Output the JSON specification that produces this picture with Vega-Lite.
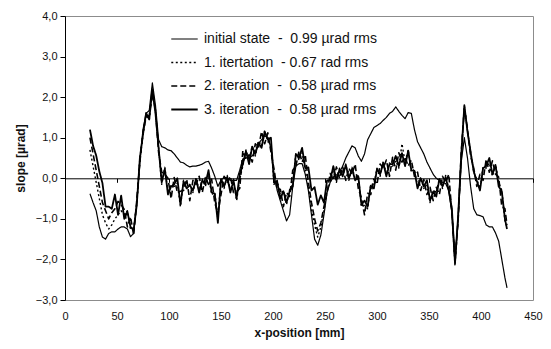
{
  "$schema": "https://vega.github.io/schema/vega-lite/v6.json",
  "width": 468,
  "height": 284,
  "autosize": "none",
  "padding": {"left": 65, "top": 16, "right": 18, "bottom": 49},
  "background": "white",
  "config": {
    "font": "Liberation Sans",
    "view": {"stroke": "#8c8c8c", "strokeWidth": 1},
    "axis": {"grid": false, "labelFont": "Liberation Sans", "titleFont": "Liberation Sans", "labelColor": "#111", "titleColor": "#111", "labelFontSize": 11, "titleFontSize": 12, "titleFontWeight": "bold", "domainColor": "black", "tickColor": "black"}
  },
  "data": {
    "values": [
      {"x":24,"a":-0.38,"b":0.7,"c":1.0,"d":1.2},
      {"x":27,"a":-0.6,"b":0.3,"c":0.6,"d":0.8},
      {"x":30,"a":-0.8,"b":-0.1,"c":0.2,"d":0.56},
      {"x":33,"a":-1.2,"b":-0.5,"c":-0.2,"d":0.17},
      {"x":36,"a":-1.45,"b":-0.9,"c":-0.6,"d":-0.12},
      {"x":39,"a":-1.5,"b":-1.1,"c":-0.8,"d":-0.7},
      {"x":42,"a":-1.36,"b":-1.25,"c":-1.0,"d":-0.7},
      {"x":45,"a":-1.32,"b":-1.15,"c":-0.85,"d":-0.75},
      {"x":48,"a":-1.32,"b":-1.0,"c":-0.75,"d":-0.4},
      {"x":51,"a":-1.25,"b":-0.9,"c":-0.57,"d":-0.9},
      {"x":54,"a":-1.2,"b":-0.8,"c":-0.65,"d":-0.43},
      {"x":57,"a":-1.2,"b":-0.9,"c":-0.77,"d":-1.0},
      {"x":60,"a":-1.25,"b":-0.8,"c":-1.2,"d":-0.82},
      {"x":63,"a":-1.44,"b":-1.25,"c":-0.95,"d":-1.2},
      {"x":66,"a":-1.36,"b":-1.23,"c":-1.4,"d":-1.27},
      {"x":69,"a":-0.6,"b":-0.65,"c":-0.54,"d":-0.66},
      {"x":72,"a":0.4,"b":0.5,"c":0.4,"d":0.5},
      {"x":75,"a":1.2,"b":1.07,"c":1.14,"d":1.08},
      {"x":78,"a":1.6,"b":1.57,"c":1.5,"d":1.61},
      {"x":81,"a":1.67,"b":1.44,"c":1.55,"d":1.45},
      {"x":84,"a":2.35,"b":2.15,"c":2.07,"d":2.2},
      {"x":87,"a":1.8,"b":1.63,"c":1.68,"d":1.6},
      {"x":90,"a":0.95,"b":0.76,"c":0.64,"d":0.75},
      {"x":93,"a":0.78,"b":-0.15,"c":0.15,"d":-0.1},
      {"x":96,"a":0.75,"b":0.27,"c":0.1,"d":0.23},
      {"x":99,"a":0.7,"b":-0.35,"c":0.0,"d":-0.4},
      {"x":102,"a":0.68,"b":-0.17,"c":-0.5,"d":-0.2},
      {"x":105,"a":0.6,"b":-0.2,"c":0.02,"d":-0.15},
      {"x":108,"a":0.5,"b":-0.12,"c":-0.35,"d":0.0},
      {"x":111,"a":0.4,"b":-0.7,"c":-0.32,"d":-0.65},
      {"x":114,"a":0.38,"b":-0.05,"c":-0.3,"d":-0.08},
      {"x":117,"a":0.32,"b":-0.15,"c":-0.02,"d":-0.25},
      {"x":120,"a":0.28,"b":-0.15,"c":-0.55,"d":-0.17},
      {"x":123,"a":0.3,"b":-0.35,"c":-0.05,"d":-0.3},
      {"x":126,"a":0.3,"b":0.02,"c":-0.15,"d":-0.02},
      {"x":129,"a":0.32,"b":-0.3,"c":0.05,"d":-0.35},
      {"x":132,"a":0.35,"b":-0.02,"c":-0.35,"d":-0.05},
      {"x":135,"a":0.4,"b":-0.2,"c":0.02,"d":-0.15},
      {"x":138,"a":0.42,"b":0.08,"c":-0.15,"d":0.2},
      {"x":141,"a":0.25,"b":-0.4,"c":-0.02,"d":-0.35},
      {"x":144,"a":0.05,"b":-0.35,"c":-0.6,"d":-0.38},
      {"x":147,"a":-0.2,"b":-1.0,"c":-0.87,"d":-1.1},
      {"x":150,"a":-0.05,"b":0.0,"c":-0.4,"d":-0.02},
      {"x":153,"a":0.03,"b":-0.25,"c":0.05,"d":-0.2},
      {"x":156,"a":0.0,"b":0.07,"c":-0.1,"d":0.03},
      {"x":159,"a":-0.05,"b":-0.3,"c":0.05,"d":-0.35},
      {"x":162,"a":-0.05,"b":-0.02,"c":-0.35,"d":-0.05},
      {"x":165,"a":-0.05,"b":-0.55,"c":-0.33,"d":-0.5},
      {"x":168,"a":0.2,"b":-0.02,"c":-0.25,"d":0.1},
      {"x":171,"a":0.48,"b":0.3,"c":0.68,"d":0.35},
      {"x":174,"a":0.5,"b":0.7,"c":0.45,"d":0.67},
      {"x":177,"a":0.52,"b":0.45,"c":0.58,"d":0.35},
      {"x":180,"a":0.55,"b":0.8,"c":0.4,"d":0.78},
      {"x":183,"a":0.65,"b":0.55,"c":0.85,"d":0.6},
      {"x":186,"a":0.85,"b":0.92,"c":0.75,"d":0.88},
      {"x":189,"a":0.95,"b":0.8,"c":1.15,"d":0.75},
      {"x":192,"a":1.05,"b":1.18,"c":0.85,"d":1.15},
      {"x":195,"a":1.0,"b":0.9,"c":1.12,"d":0.95},
      {"x":198,"a":0.75,"b":0.88,"c":0.65,"d":1.0},
      {"x":201,"a":0.1,"b":-0.15,"c":0.23,"d":-0.1},
      {"x":204,"a":-0.3,"b":-0.05,"c":-0.3,"d":-0.08},
      {"x":207,"a":-0.55,"b":-0.4,"c":-0.27,"d":-0.5},
      {"x":210,"a":-0.8,"b":-0.3,"c":-0.7,"d":-0.32},
      {"x":213,"a":-1.05,"b":-0.65,"c":-0.35,"d":-0.6},
      {"x":216,"a":-0.9,"b":-0.28,"c":-0.45,"d":-0.32},
      {"x":219,"a":-0.2,"b":-0.15,"c":0.2,"d":-0.2},
      {"x":222,"a":0.3,"b":0.63,"c":0.3,"d":0.6},
      {"x":225,"a":0.36,"b":0.45,"c":0.67,"d":0.5},
      {"x":228,"a":0.36,"b":0.63,"c":0.4,"d":0.75},
      {"x":231,"a":0.1,"b":0.2,"c":0.58,"d":0.25},
      {"x":234,"a":-0.3,"b":-0.2,"c":-0.1,"d":0.27},
      {"x":237,"a":-0.9,"b":-0.8,"c":-0.6,"d":-0.3},
      {"x":240,"a":-1.5,"b":-1.15,"c":-1.0,"d":-0.22},
      {"x":243,"a":-1.65,"b":-1.45,"c":-1.3,"d":-0.65},
      {"x":246,"a":-1.4,"b":-1.2,"c":-1.1,"d":-0.42},
      {"x":249,"a":-0.9,"b":-0.8,"c":-0.7,"d":-0.6},
      {"x":252,"a":-0.35,"b":-0.3,"c":-0.35,"d":-0.05},
      {"x":255,"a":-0.1,"b":-0.1,"c":0.12,"d":-0.05},
      {"x":258,"a":0.03,"b":0.18,"c":-0.05,"d":0.3},
      {"x":261,"a":0.08,"b":-0.1,"c":0.28,"d":-0.05},
      {"x":264,"a":0.15,"b":0.25,"c":0.0,"d":0.22},
      {"x":267,"a":0.3,"b":0.15,"c":0.28,"d":0.05},
      {"x":270,"a":0.5,"b":0.35,"c":-0.05,"d":0.33},
      {"x":273,"a":0.65,"b":-0.05,"c":0.25,"d":0.0},
      {"x":276,"a":0.8,"b":0.27,"c":0.1,"d":0.23},
      {"x":279,"a":0.75,"b":0.0,"c":0.35,"d":-0.05},
      {"x":282,"a":0.55,"b":0.08,"c":-0.25,"d":0.05},
      {"x":285,"a":0.42,"b":-0.7,"c":-0.48,"d":-0.65},
      {"x":288,"a":0.6,"b":-0.67,"c":-0.9,"d":-0.55},
      {"x":291,"a":0.95,"b":-0.75,"c":-0.37,"d":-0.7},
      {"x":294,"a":1.1,"b":-0.15,"c":-0.4,"d":-0.18},
      {"x":297,"a":1.25,"b":-0.15,"c":-0.02,"d":-0.25},
      {"x":300,"a":1.3,"b":0.25,"c":-0.15,"d":0.23},
      {"x":303,"a":1.35,"b":0.05,"c":0.35,"d":0.1},
      {"x":306,"a":1.43,"b":0.42,"c":0.25,"d":0.38},
      {"x":309,"a":1.5,"b":0.1,"c":0.45,"d":0.05},
      {"x":312,"a":1.6,"b":0.38,"c":0.05,"d":0.35},
      {"x":315,"a":1.65,"b":0.3,"c":0.52,"d":0.35},
      {"x":318,"a":1.76,"b":0.43,"c":0.2,"d":0.55},
      {"x":321,"a":1.65,"b":0.25,"c":0.63,"d":0.3},
      {"x":324,"a":1.55,"b":0.85,"c":0.4,"d":0.62},
      {"x":327,"a":1.47,"b":0.4,"c":0.53,"d":0.3},
      {"x":330,"a":1.62,"b":0.7,"c":0.3,"d":0.68},
      {"x":333,"a":1.6,"b":0.15,"c":0.45,"d":0.2},
      {"x":336,"a":1.2,"b":0.22,"c":0.05,"d":0.18},
      {"x":339,"a":0.9,"b":-0.2,"c":0.15,"d":-0.25},
      {"x":342,"a":0.75,"b":0.03,"c":-0.3,"d":0.0},
      {"x":345,"a":0.6,"b":-0.25,"c":-0.03,"d":-0.2},
      {"x":348,"a":0.4,"b":-0.17,"c":-0.4,"d":-0.05},
      {"x":351,"a":0.25,"b":-0.6,"c":-0.22,"d":-0.55},
      {"x":354,"a":0.1,"b":-0.3,"c":-0.55,"d":-0.33},
      {"x":357,"a":0.0,"b":-0.35,"c":-0.22,"d":-0.45},
      {"x":360,"a":-0.05,"b":0.0,"c":-0.4,"d":-0.02},
      {"x":363,"a":-0.1,"b":-0.25,"c":0.05,"d":-0.2},
      {"x":366,"a":-0.13,"b":0.07,"c":-0.1,"d":0.03},
      {"x":369,"a":-0.3,"b":-0.25,"c":0.1,"d":-0.3},
      {"x":372,"a":-0.85,"b":-0.78,"c":-0.85,"d":-0.75},
      {"x":375,"a":-2.0,"b":-2.15,"c":-2.05,"d":-2.1},
      {"x":378,"a":-1.0,"b":-0.98,"c":-1.05,"d":-0.94},
      {"x":381,"a":0.4,"b":0.55,"c":0.65,"d":0.55},
      {"x":384,"a":1.0,"b":1.78,"c":1.72,"d":1.8},
      {"x":387,"a":0.5,"b":1.18,"c":1.22,"d":1.15},
      {"x":390,"a":-0.2,"b":0.66,"c":0.55,"d":0.65},
      {"x":393,"a":-0.75,"b":0.15,"c":0.25,"d":0.17},
      {"x":396,"a":-0.9,"b":-0.03,"c":-0.2,"d":-0.07},
      {"x":399,"a":-0.92,"b":-0.25,"c":0.1,"d":-0.3},
      {"x":402,"a":-0.95,"b":0.28,"c":-0.05,"d":0.25},
      {"x":405,"a":-1.15,"b":0.25,"c":0.47,"d":0.3},
      {"x":408,"a":-1.2,"b":0.38,"c":0.15,"d":0.5},
      {"x":411,"a":-1.2,"b":0.05,"c":0.43,"d":0.1},
      {"x":414,"a":-1.35,"b":0.35,"c":0.1,"d":0.32},
      {"x":417,"a":-1.55,"b":-0.1,"c":0.03,"d":-0.2},
      {"x":420,"a":-2.0,"b":-0.3,"c":-0.7,"d":-0.32},
      {"x":423,"a":-2.45,"b":-1.05,"c":-0.75,"d":-1.0},
      {"x":425,"a":-2.7,"b":-1.2,"c":-1.15,"d":-1.25}
    ]
  },
  "transform": [{"fold": ["a", "b", "c", "d"], "as": ["series", "slope"]}],
  "mark": {"type": "line", "color": "black", "strokeJoin": "round"},
  "encoding": {
    "x": {
      "field": "x", "type": "quantitative",
      "scale": {"domain": [0, 450], "nice": false},
      "axis": {"values": [0, 50, 100, 150, 200, 250, 300, 350, 400, 450], "title": "x-position [mm]", "offset": -121.7, "tickSize": 4, "labelPadding": 128, "titlePadding": 6, "labelFlush": false}
    },
    "y": {
      "field": "slope", "type": "quantitative",
      "scale": {"domain": [-3, 4], "nice": false},
      "axis": {"values": [-3, -2, -1, 0, 1, 2, 3, 4], "title": "slope [µrad]", "tickSize": 5, "labelPadding": 3, "titlePadding": 8, "labelExpr": "replace(format(datum.value, '.1f'), '.', ',')"}
    },
    "strokeDash": {
      "field": "series", "type": "nominal",
      "scale": {"domain": ["a", "b", "c", "d"], "range": [[1, 0], [2, 2.5], [6, 3], [1, 0]]},
      "legend": {
        "orient": "none", "legendX": 105, "legendY": 15, "title": null,
        "symbolType": "stroke", "symbolSize": 700, "symbolStrokeColor": "black",
        "labelFont": "Liberation Sans", "labelFontSize": 14, "labelColor": "#111", "labelOffset": 5, "labelLimit": 0,
        "clipHeight": 16, "rowPadding": 7.5,
        "labelExpr": "datum.label == 'a' ? 'initial state\u00a0\u00a0-\u00a0\u00a00.99 µrad rms' : datum.label == 'b' ? '1. itertation\u00a0\u00a0- 0.67 rad rms' : datum.label == 'c' ? '2. iteration\u00a0\u00a0-\u00a0\u00a00.58 µrad rms' : '3. iteration\u00a0\u00a0-\u00a0\u00a00.58 µrad rms'"
      }
    },
    "strokeWidth": {
      "field": "series", "type": "nominal",
      "scale": {"domain": ["a", "b", "c", "d"], "range": [1.2, 1.8, 2.1, 2.6]},
      "legend": {
        "orient": "none", "legendX": 105, "legendY": 15, "title": null,
        "symbolType": "stroke", "symbolSize": 700, "symbolStrokeColor": "black",
        "labelFont": "Liberation Sans", "labelFontSize": 14, "labelColor": "#111", "labelOffset": 5, "labelLimit": 0,
        "clipHeight": 16, "rowPadding": 7.5,
        "labelExpr": "datum.label == 'a' ? 'initial state\u00a0\u00a0-\u00a0\u00a00.99 µrad rms' : datum.label == 'b' ? '1. itertation\u00a0\u00a0- 0.67 rad rms' : datum.label == 'c' ? '2. iteration\u00a0\u00a0-\u00a0\u00a00.58 µrad rms' : '3. iteration\u00a0\u00a0-\u00a0\u00a00.58 µrad rms'"
      }
    }
  }
}
